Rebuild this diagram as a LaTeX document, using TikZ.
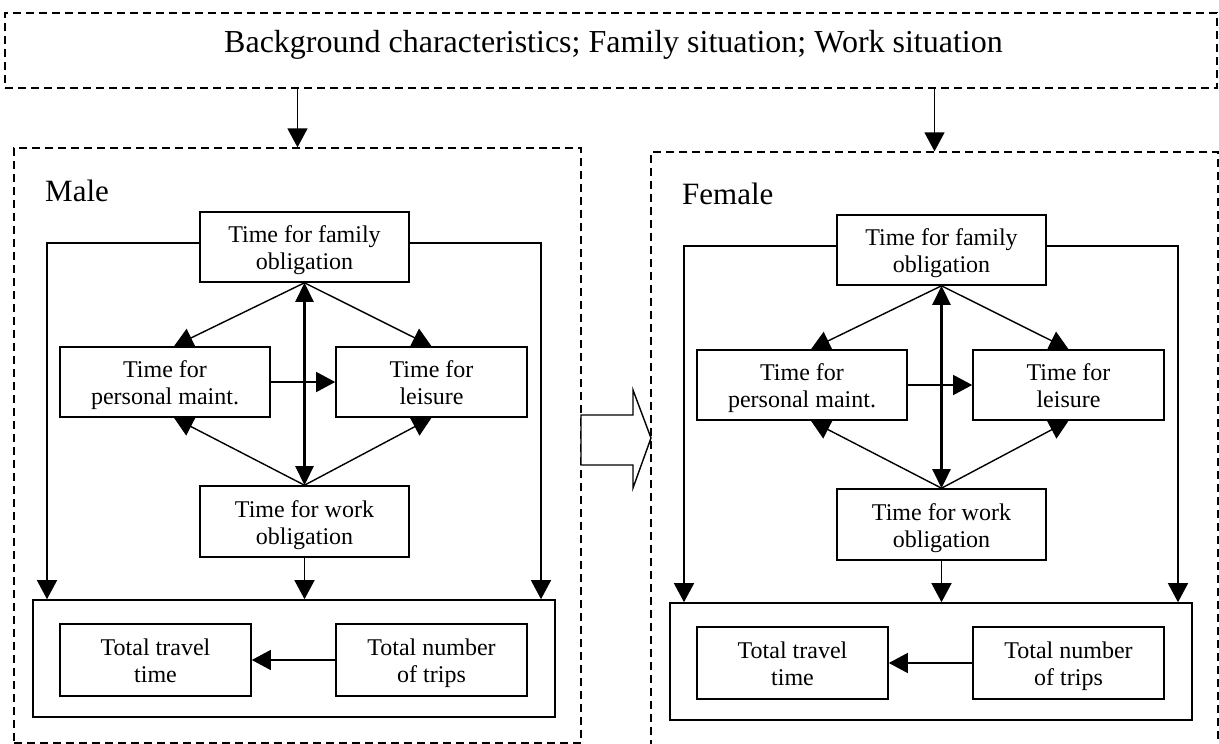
\documentclass[tikz,border=0pt]{standalone}
\usepackage{fontspec}
\setmainfont{Liberation Serif}
\usetikzlibrary{arrows.meta,calc}

% two-line box text, set a little below the middle of its box
\newcommand\boxtext[1]{\raisebox{-4pt}[\height][\depth]{\begin{tabular}{@{}c@{}}#1\end{tabular}}}

\tikzset{
  box/.style={draw, line width=1.6pt, inner sep=0pt,
    font=\fontsize{24}{27}\selectfont},
  frame/.style={draw, dash pattern=on 8pt off 5pt, line width=1.3pt, inner sep=0pt},
  link/.style={line width=1.4pt, -{Triangle[length=19pt,width=20pt]}},
  twoway/.style={line width=2.6pt,
    {Triangle[length=19pt,width=18pt]}-{Triangle[length=19pt,width=18pt]}},
  % one panel: the time-use model for one sex
  panel/.pic={
    \node[box, minimum width=209pt, minimum height=70pt] (-fam) at (304.5,247) {\boxtext{Time for family\\obligation}};
    \node[box, minimum width=210pt, minimum height=70pt] (-pers) at (165,382) {\boxtext{Time for\\personal maint.}};
    \node[box, minimum width=191pt, minimum height=70pt] (-leis) at (431.5,382) {\boxtext{Time for\\leisure}};
    \node[box, minimum width=209pt, minimum height=71pt] (-work) at (304.5,521.5) {\boxtext{Time for work\\obligation}};
    \node[box, minimum width=522pt, minimum height=117pt] (-out) at (294,658.5) {};
    \node[box, minimum width=191pt, minimum height=72pt] (-trav) at (155.5,660) {\boxtext{Total travel\\time}};
    \node[box, minimum width=191pt, minimum height=72pt] (-trip) at (431.5,660) {\boxtext{Total number\\of trips}};
    \node[anchor=base west, inner sep=0pt, font=\fontsize{31}{36}\selectfont] (-lab) at (45,201) {#1};
    \coordinate (-cl) at (47,243);
    \coordinate (-cr) at (541,243);
    \draw[link] (-fam.west |- -cl) -- (-cl) -- (-cl |- -out.north);
    \draw[link] (-fam.east |- -cr) -- (-cr) -- (-cr |- -out.north);
    \draw[twoway] (-fam.south) -- (-work.north);
    \draw[link] (-fam.south) -- ([xshift=9pt]-pers.north);
    \draw[link] (-fam.south) -- (-leis.north);
    \draw[link] (-work.north) -- ([xshift=9pt]-pers.south);
    \draw[link] (-work.north) -- (-leis.south);
    \draw[link] (-pers.east) -- (-leis.west);
    \draw[link] (-work.south) -- (-work.south |- -out.north);
    \draw[link] (-trip.west) -- (-trav.east);
  }
}

\begin{document}
\begin{tikzpicture}[x=1pt, y=-1pt]
  \useasboundingbox (0,0) rectangle (1219,744);

  % common determinants
  \node[frame, minimum width=1212pt, minimum height=75pt] (top) at (611,50.5) {};
  \node[anchor=base, inner sep=0pt, font=\fontsize{32}{36}\selectfont] (toptext) at (613.5,52)
        {Background characteristics; Family situation; Work situation};

  % dashed frames of the two panels
  \node[frame, minimum width=567pt, minimum height=595pt] (mbox) at (297.5,445.5) {};
  \node[frame, minimum width=567pt, minimum height=618pt] (fbox) at (934.5,461) {};

  \draw[link] (top.south -| mbox.north) -- (mbox.north);
  \draw[link] (top.south -| fbox.north) -- (fbox.north);

  \pic (m) at (0,0) {panel=Male};
  \pic (f) at (637,3) {panel=Female};

  % block arrow from the male panel to the female panel
  \draw[line width=1.4pt, fill=white, line join=miter]
    (581,415) -- (633,415) -- (633,390) -- (651,438) -- (633,488)
    -- (633,465) -- (581,465) -- cycle;
\end{tikzpicture}
\end{document}
